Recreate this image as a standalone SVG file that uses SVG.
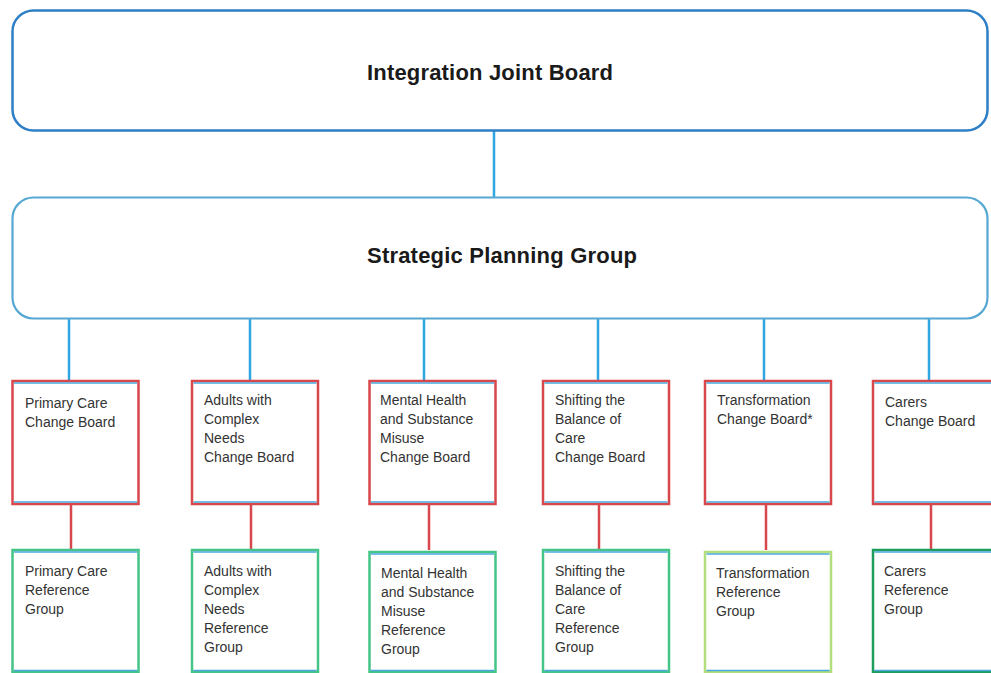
<svg xmlns="http://www.w3.org/2000/svg" width="991" height="673" viewBox="0 0 991 673">
<style>
.bg{fill:#ffffff}
.ijb{fill:#fff;stroke:#2f7fc6;stroke-width:2.5}
.spg{fill:#fff;stroke:#56a8d2;stroke-width:2.2}
.title{font-family:"Liberation Sans",Arial,sans-serif;font-weight:bold;font-size:22px;fill:#1a1a1a}
.cb{fill:#fff;stroke:#d8474c;stroke-width:2.5}
.rg{fill:#fff;stroke:#45c487;stroke-width:2.5}
.rgl{fill:#fff;stroke:#b3de7e;stroke-width:2.5}
.rgd{fill:#fff;stroke:#1e9c5c;stroke-width:2.5}
.inner{stroke:#4aa8dc;stroke-width:1.5}
.lbl{font-family:"Liberation Sans",Arial,sans-serif;font-size:14px;fill:#333}
.blue{stroke:#2ea6e0;stroke-width:2.5}
.red{stroke:#d8474c;stroke-width:2.5}
</style>
<rect class="bg" x="0" y="0" width="991" height="673"/>
<g id="connectors">
<line class="blue" x1="494" y1="131" x2="494" y2="197"/>
<line class="blue" x1="69" y1="319" x2="69" y2="381"/>
<line class="blue" x1="250" y1="319" x2="250" y2="381"/>
<line class="blue" x1="424" y1="319" x2="424" y2="381"/>
<line class="blue" x1="598" y1="319" x2="598" y2="381"/>
<line class="blue" x1="764" y1="319" x2="764" y2="381"/>
<line class="blue" x1="929" y1="319" x2="929" y2="381"/>
<line class="red" x1="71" y1="504" x2="71" y2="550"/>
<line class="red" x1="251" y1="504" x2="251" y2="550"/>
<line class="red" x1="429" y1="504" x2="429" y2="550"/>
<line class="red" x1="599" y1="504" x2="599" y2="550"/>
<line class="red" x1="766" y1="504" x2="766" y2="550"/>
<line class="red" x1="931" y1="504" x2="931" y2="550"/>
</g>
<g id="ijb">
<rect class="ijb" x="12.5" y="10.5" width="975" height="120" rx="21"/>
<text class="title" x="490" y="80" text-anchor="middle" textLength="246">Integration Joint Board</text>
</g>
<g id="spg">
<rect class="spg" x="12.5" y="197.5" width="975" height="121" rx="21"/>
<text class="title" x="502" y="263" text-anchor="middle" textLength="270">Strategic Planning Group</text>
</g>
<g id="cb1">
<rect class="cb" x="12.5" y="381" width="126" height="123"/>
<line class="inner" x1="14" y1="383" x2="137" y2="383"/><line class="inner" x1="14" y1="502" x2="137" y2="502"/>
<text class="lbl"><tspan x="25" y="408">Primary Care</tspan><tspan x="25" y="427">Change Board</tspan></text>
</g>
<g id="cb2">
<rect class="cb" x="192" y="381" width="126" height="123"/>
<line class="inner" x1="193.5" y1="383" x2="316.5" y2="383"/><line class="inner" x1="193.5" y1="502" x2="316.5" y2="502"/>
<text class="lbl"><tspan x="204" y="405">Adults with</tspan><tspan x="204" y="424">Complex</tspan><tspan x="204" y="443">Needs</tspan><tspan x="204" y="462">Change Board</tspan></text>
</g>
<g id="cb3">
<rect class="cb" x="369.5" y="381" width="126" height="123"/>
<line class="inner" x1="371" y1="383" x2="494" y2="383"/><line class="inner" x1="371" y1="502" x2="494" y2="502"/>
<text class="lbl"><tspan x="380" y="405">Mental Health</tspan><tspan x="380" y="424">and Substance</tspan><tspan x="380" y="443">Misuse</tspan><tspan x="380" y="462">Change Board</tspan></text>
</g>
<g id="cb4">
<rect class="cb" x="543" y="381" width="126" height="123"/>
<line class="inner" x1="544.5" y1="383" x2="667.5" y2="383"/><line class="inner" x1="544.5" y1="502" x2="667.5" y2="502"/>
<text class="lbl"><tspan x="555" y="405">Shifting the</tspan><tspan x="555" y="424">Balance of</tspan><tspan x="555" y="443">Care</tspan><tspan x="555" y="462">Change Board</tspan></text>
</g>
<g id="cb5">
<rect class="cb" x="705" y="381" width="126" height="123"/>
<line class="inner" x1="706.5" y1="383" x2="829.5" y2="383"/><line class="inner" x1="706.5" y1="502" x2="829.5" y2="502"/>
<text class="lbl"><tspan x="717" y="405">Transformation</tspan><tspan x="717" y="424">Change Board*</tspan></text>
</g>
<g id="cb6">
<rect class="cb" x="873" y="381" width="126" height="123"/>
<line class="inner" x1="874.5" y1="383" x2="997.5" y2="383"/><line class="inner" x1="874.5" y1="502" x2="997.5" y2="502"/>
<text class="lbl"><tspan x="885" y="407">Carers</tspan><tspan x="885" y="426">Change Board</tspan></text>
</g>
<g id="rg1">
<rect class="rg" x="12.5" y="550" width="126" height="122"/>
<line class="inner" x1="14" y1="552" x2="137" y2="552"/><line class="inner" x1="14" y1="670.5" x2="137" y2="670.5"/>
<text class="lbl"><tspan x="25" y="576">Primary Care</tspan><tspan x="25" y="595">Reference</tspan><tspan x="25" y="614">Group</tspan></text>
</g>
<g id="rg2">
<rect class="rg" x="192" y="550" width="126" height="122"/>
<line class="inner" x1="193.5" y1="552" x2="316.5" y2="552"/><line class="inner" x1="193.5" y1="670.5" x2="316.5" y2="670.5"/>
<text class="lbl"><tspan x="204" y="576">Adults with</tspan><tspan x="204" y="595">Complex</tspan><tspan x="204" y="614">Needs</tspan><tspan x="204" y="633">Reference</tspan><tspan x="204" y="652">Group</tspan></text>
</g>
<g id="rg3">
<rect class="rg" x="369.5" y="552" width="126" height="120"/>
<line class="inner" x1="371" y1="554" x2="494" y2="554"/><line class="inner" x1="371" y1="670.5" x2="494" y2="670.5"/>
<text class="lbl"><tspan x="381" y="578">Mental Health</tspan><tspan x="381" y="597">and Substance</tspan><tspan x="381" y="616">Misuse</tspan><tspan x="381" y="635">Reference</tspan><tspan x="381" y="654">Group</tspan></text>
</g>
<g id="rg4">
<rect class="rg" x="543" y="550" width="126" height="122"/>
<line class="inner" x1="544.5" y1="552" x2="667.5" y2="552"/><line class="inner" x1="544.5" y1="670.5" x2="667.5" y2="670.5"/>
<text class="lbl"><tspan x="555" y="576">Shifting the</tspan><tspan x="555" y="595">Balance of</tspan><tspan x="555" y="614">Care</tspan><tspan x="555" y="633">Reference</tspan><tspan x="555" y="652">Group</tspan></text>
</g>
<g id="rg5">
<rect class="rgl" x="705" y="552" width="126" height="120"/>
<line class="inner" x1="706.5" y1="554" x2="829.5" y2="554"/><line class="inner" x1="706.5" y1="670.5" x2="829.5" y2="670.5"/>
<text class="lbl"><tspan x="716" y="578">Transformation</tspan><tspan x="716" y="597">Reference</tspan><tspan x="716" y="616">Group</tspan></text>
</g>
<g id="rg6">
<rect class="rgd" x="873" y="550" width="126" height="122"/>
<line class="inner" x1="874.5" y1="552" x2="997.5" y2="552"/><line class="inner" x1="874.5" y1="670.5" x2="997.5" y2="670.5"/>
<text class="lbl"><tspan x="884" y="576">Carers</tspan><tspan x="884" y="595">Reference</tspan><tspan x="884" y="614">Group</tspan></text>
</g>
</svg>
